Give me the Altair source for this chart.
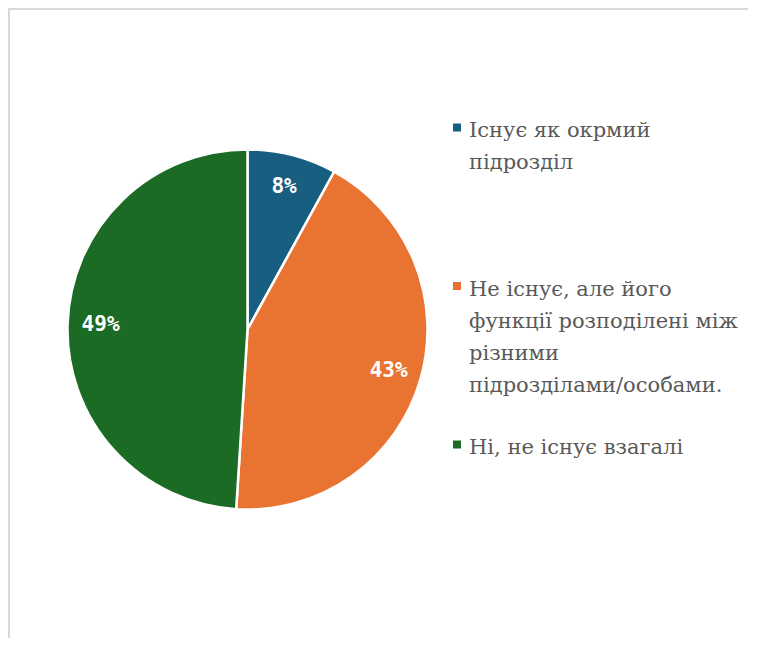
import altair as alt
import pandas as pd

categories = [
    "Існує як окрмий підрозділ",
    "Не існує, але його функції розподілені між різними підрозділами/особами.",
    "Ні, не існує взагалі",
]
legend_lines = [
    ["Існує як окрмий", "підрозділ"],
    ["Не існує, але його", "функції розподілені між", "різними", "підрозділами/особами."],
    ["Ні, не існує взагалі"],
]
values = [8, 43, 49]
labels = ["8%", "43%", "49%"]
colors = ["#175e80", "#e97432", "#1b6b24"]

df = pd.DataFrame({
    "cat": categories,
    "value": values,
    "label": labels,
    "order": [0, 1, 2],
    "legend": ["\n".join(l) for l in legend_lines],
})

SERIF = "DejaVu Serif"
MONO = "DejaVu Sans Mono"

color_scale = alt.Scale(domain=categories, range=colors)
cx, cy = 239.5, 321.5

base = alt.Chart(df)

pie = base.mark_arc(outerRadius=180, stroke="white", strokeWidth=2.5).encode(
    theta=alt.Theta("value:Q", stack=True),
    color=alt.Color("cat:N", scale=color_scale, legend=None),
    order=alt.Order("order:Q"),
    x=alt.value(cx),
    y=alt.value(cy),
)

pct = base.mark_text(
    radius=147, font=MONO, fontSize=21, fontWeight="bold", color="white"
).encode(
    theta=alt.Theta("value:Q", stack=True),
    text="label:N",
    order=alt.Order("order:Q"),
    x=alt.value(cx),
    y=alt.value(cy),
)

ypos = alt.Y("order:Q", scale=alt.Scale(domain=[0, 2], range=[119.5, 436.5]), axis=None)

leg_sym = base.mark_square(size=64, opacity=1).encode(
    x=alt.value(449),
    y=ypos,
    color=alt.Color("cat:N", scale=color_scale, legend=None),
)

leg_txt = base.mark_text(
    align="left", baseline="alphabetic", dy=9.5, font=SERIF,
    fontSize=21, lineHeight=32, color="#595959", lineBreak="\n"
).encode(
    x=alt.value(461),
    y=ypos,
    text="legend:N",
)

frame_df = pd.DataFrame({"a": [0]})
top_rule = alt.Chart(frame_df).mark_rule(color="#d9d9d9", strokeWidth=2).encode(
    x=alt.value(0), x2=alt.value(740), y=alt.value(1)
)
left_rule = alt.Chart(frame_df).mark_rule(color="#d9d9d9", strokeWidth=2).encode(
    x=alt.value(1), y=alt.value(0), y2=alt.value(630)
)

chart = alt.layer(top_rule, left_rule, pie, pct, leg_sym, leg_txt).properties(
    width=740, height=630, autosize="none", padding=0
).configure_view(stroke=None)

chart.save("out.html", embed_options={"renderer": "svg", "actions": False})
